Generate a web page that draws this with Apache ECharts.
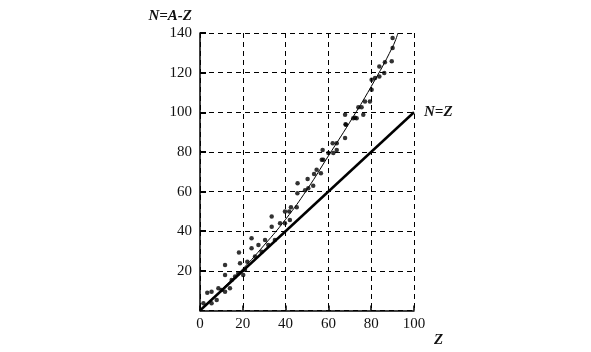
<!DOCTYPE html>
<html>
<head>
<meta charset="utf-8">
<script src="https://cdn.jsdelivr.net/npm/echarts@6/dist/echarts.min.js"></script>
<style>
  html, body { margin: 0; padding: 0; background: #fff; }
  #chart { width: 591px; height: 352px; }
</style>
</head>
<body>
<div id="chart"></div>
<script>
// 实测点 (Z, N)
var pointZ = [1.6, 5.4, 3.4, 5.4, 7.8, 8.6, 10.1, 11.7, 14.0, 11.7, 11.7, 14.8, 16.4, 17.9, 18.7, 18.2,
  20.2, 21.0, 22.1, 24.1, 24.1, 25.7, 27.3, 28.8, 30.4, 31.9, 33.5, 35.0, 37.4, 39.7, 42.0,
  33.5, 39.7, 41.7, 42.5, 45.2, 45.6, 45.5, 49.1, 50.6, 50.3, 52.9, 53.3, 54.5, 56.5, 56.9,
  57.6, 57.3, 60.0, 62.3, 63.9, 62.0, 63.9, 67.8, 68.2, 67.8, 71.6, 73.2, 76.3, 74.0, 75.5,
  77.1, 79.4, 80.2, 80.2, 81.8, 83.8, 83.8, 86.1, 86.4, 89.6, 90.0, 90.0, 68.0, 72.4]
var pointN = [3.6, 3.6, 9.0, 9.5, 5.3, 11.2, 10.4, 9.5, 11.2, 17.9, 23.0, 15.4, 17.1, 18.8, 23.8, 29.2,
  17.9, 20.5, 24.6, 31.4, 36.5, 27.2, 33.1, 29.7, 35.6, 33.1, 42.3, 35.6, 44.0, 44.0, 45.7,
  47.4, 49.9, 49.9, 52.1, 52.1, 64.2, 59.2, 60.7, 61.7, 66.3, 62.9, 68.9, 71.0, 69.3, 76.0,
  76.0, 81.0, 79.4, 79.4, 81.0, 84.4, 84.4, 87.0, 93.7, 98.7, 97.0, 97.0, 98.7, 102.6, 102.6,
  105.5, 105.5, 111.4, 116.4, 117.3, 118.1, 123.1, 119.8, 125.2, 125.7, 132.4, 137.5, 94.0, 97.2]

// 拟合曲线
var fitZ = [0, 10, 20, 30, 40, 50, 60, 70, 80, 90, 92.5]
var fitN = [0, 10.5, 21, 33, 46, 61, 78, 95, 113, 133, 140]

// N=Z 直线
var diagZ = [0, 100]
var diagN = [0, 100]

var xTicks = [0, 20, 40, 60, 80, 100]
var yTicks = [20, 40, 60, 80, 100, 120, 140]

function pairs (a, b) {
  return a.map(function (v, i) { return [v, b[i]] })
}

var serif = 'Liberation Serif'
var chart = echarts.init(document.getElementById('chart'))
var option = {
  animation: false,
  grid: { left: 200, right: 177, top: 33, bottom: 41.5 },
  xAxis: {
    type: 'value',
    min: 0,
    max: 100,
    interval: 20,
    name: 'Z',
    nameLocation: 'end',
    nameGap: 20,
    nameTextStyle: {
      fontFamily: serif, fontSize: 15, fontWeight: 'bold', fontStyle: 'italic',
      color: '#111', verticalAlign: 'top', padding: [22, 0, 0, 0]
    },
    axisLine: { lineStyle: { color: '#000', width: 1.5 } },
    axisTick: { inside: true, length: 5, lineStyle: { color: '#000', width: 1.5 } },
    axisLabel: {
      fontFamily: serif, fontSize: 15, color: '#111', margin: 6,
      formatter: function (v) { return xTicks.indexOf(v) >= 0 ? String(v) : '' }
    },
    splitLine: { show: true, lineStyle: { color: '#000', type: [5, 4], width: 1 } }
  },
  yAxis: {
    type: 'value',
    min: 0,
    max: 140,
    interval: 20,
    name: 'N=A-Z',
    nameLocation: 'end',
    nameGap: 9,
    nameTextStyle: {
      fontFamily: serif, fontSize: 15, fontWeight: 'bold', fontStyle: 'italic',
      color: '#111', align: 'right', padding: [0, 8, 0, 0]
    },
    axisLine: { lineStyle: { color: '#000', width: 1.5 } },
    axisTick: { inside: true, length: 6, lineStyle: { color: '#000', width: 2 } },
    axisLabel: {
      fontFamily: serif, fontSize: 15, color: '#111', margin: 8,
      showMinLabel: false,
      formatter: function (v) { return yTicks.indexOf(v) >= 0 ? String(v) : '' }
    },
    splitLine: { show: true, lineStyle: { color: '#000', type: [5, 4], width: 1 } }
  },
  series: [
    {
      type: 'line',
      data: pairs(diagZ, diagN),
      symbol: 'none',
      lineStyle: { color: '#000', width: 2.5 },
      endLabel: {
        show: true,
        formatter: 'N=Z',
        distance: 10,
        fontFamily: serif, fontSize: 15, fontWeight: 'bold', fontStyle: 'italic', color: '#111'
      },
      z: 3
    },
    {
      type: 'line',
      data: pairs(fitZ, fitN),
      smooth: true,
      symbol: 'none',
      lineStyle: { color: '#000', width: 1 },
      z: 3
    },
    {
      type: 'scatter',
      data: pairs(pointZ, pointN),
      symbol: 'circle',
      symbolSize: 4.5,
      itemStyle: { color: '#000' },
      z: 4
    }
  ]
}
chart.setOption(option)
</script>
</body>
</html>
